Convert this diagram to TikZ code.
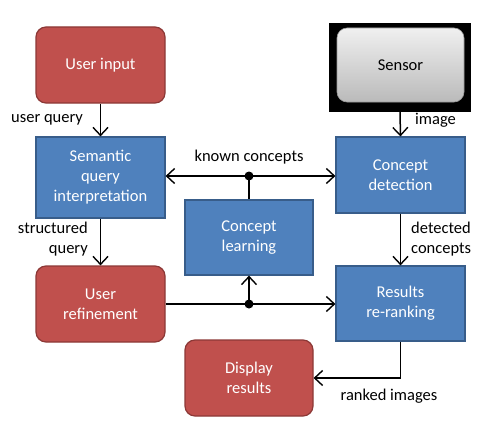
\documentclass[tikz,border=0pt]{standalone}
\usepackage{fontspec}
\setmainfont{Carlito}
\usetikzlibrary{arrows.meta}
\definecolor{redfill}{HTML}{C0504D}
\definecolor{redline}{HTML}{8C3836}
\definecolor{bluefill}{HTML}{4F81BD}
\definecolor{blueline}{HTML}{385D8A}
\begin{document}
\begin{tikzpicture}[x=1pt,y=-1pt,
  redbox/.style={draw=redline,line width=1.2pt,fill=redfill,rounded corners=10pt,text=white,align=center,font=\fontsize{16.5}{20}\selectfont},
  bluebox/.style={draw=blueline,line width=1.2pt,fill=bluefill,text=white,align=center,font=\fontsize{16.5}{20}\selectfont},
  conn/.style={line width=1.5pt,-{Straight Barb[length=8pt,width=15pt,line width=1.4pt]}},
  lbl/.style={font=\fontsize{16.5}{20}\selectfont,align=left},
  dot/.style={circle,fill=black,inner sep=0pt,minimum size=9pt}]
\useasboundingbox (0,0) rectangle (495,428);
% boxes
\node[redbox,minimum width=129pt,minimum height=76pt,inner sep=0pt] (ui) at (100.5,65) {User input};
\node[bluebox,minimum width=129pt,minimum height=81pt,inner sep=0pt] (sq) at (100.5,177.5) {Semantic\\query\\interpretation};
\node[redbox,minimum width=129pt,minimum height=76pt,inner sep=0pt] (ur) at (100.5,304) {User\\refinement};
\node[bluebox,minimum width=128pt,minimum height=75pt,inner sep=0pt] (cl) at (249,237.5) {Concept\\learning};
\node[fill=black,minimum width=142pt,minimum height=89pt,inner sep=0pt] (sb) at (400,67.5) {};
\node[rounded corners=10pt,top color=black!6,bottom color=black!27,draw=black!40,line width=0.6pt,minimum width=127pt,minimum height=74pt,inner sep=0pt,font=\fontsize{16.5}{20}\selectfont] (se) at (400.5,65) {Sensor};
\node[bluebox,minimum width=129pt,minimum height=76pt,inner sep=0pt] (cd) at (400.5,175) {Concept\\detection};
\node[bluebox,minimum width=129pt,minimum height=75pt,inner sep=0pt] (rr) at (400.5,303.5) {Results\\re-ranking};
\node[redbox,minimum width=128pt,minimum height=76pt,inner sep=0pt] (dr) at (249,378) {Display\\results};
% connectors
\draw[conn] (ui.south) -- (sq.north);
\draw[conn] (sb.south) -- (cd.north);
\draw[conn] (sq.south) -- (ur.north);
\draw[conn] (cd.south) -- (rr.north);
\node[dot] (d1) at (249,176) {};
\node[dot] (d2) at (249,304) {};
\draw[conn] (d1.center) -- (sq.east |- d1);
\draw[conn] (d1.center) -- (cd.west |- d1);
\draw[line width=1.5pt] (d1.center) -- (cl.north);
\draw[line width=1.5pt] (ur.east |- d2) -- (d2.center);
\draw[conn] (d2.center) -- (rr.west |- d2);
\draw[conn] (d2.center) -- (cl.south);
\coordinate (bend) at (400.5,378);
\draw[conn] (rr.south) -- (bend) -- (dr.east |- bend);
% labels
\node[lbl,anchor=west,inner sep=0pt] (l1) at (11,120) {user query};
\node[lbl,anchor=west,inner sep=0pt] (l2) at (415,120) {image};
\node[lbl,anchor=center,inner sep=0pt] (l3) at (249,157) {known concepts};
\node[lbl,align=right,anchor=east,inner sep=0pt] (l4) at (88,239) {structured\\query};
\node[lbl,anchor=west,inner sep=0pt] (l5) at (411,239) {detected\\concepts};
\node[lbl,anchor=center,inner sep=0pt] (l6) at (389,396) {ranked images};
\end{tikzpicture}
\end{document}
